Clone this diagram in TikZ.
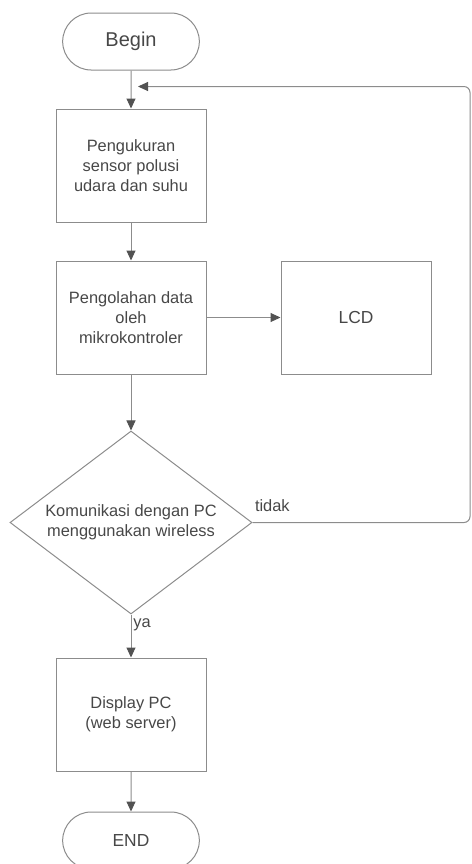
\documentclass[tikz,border=0pt]{standalone}
\usepackage{fontspec}
\setmainfont{Liberation Sans}
\usetikzlibrary{positioning, shapes.geometric, shapes.misc, arrows.meta}

\tikzset{
    garis/.style={draw=black!45, line width=0.5pt},
    proses/.style={garis, rectangle, minimum width=75pt, minimum height=56.5pt, align=center, text=black!72},
    terminal/.style={garis, rounded rectangle, minimum width=75pt, minimum height=28.5pt, text=black!72},
    keputusan/.style={garis, diamond, aspect=1.32, inner sep=1pt, minimum width=121pt, minimum height=91.5pt, align=center, text=black!72},
    panah/.style={garis, ->},
}

\begin{document}
\begin{tikzpicture}[>={Triangle[length=5pt, width=4.5pt, color=black!68]}, font=\fontsize{8.2}{10}\selectfont]
                    \useasboundingbox (0,0) rectangle (236pt,-432pt);
                    \node [terminal, font=\fontsize{10}{12}\selectfont] (mulai) at (65.5pt,-20.75pt) {Begin};
                    \node [proses, below=19pt of mulai] (ukur) {Pengukuran\\sensor polusi\\udara dan suhu};
                    \node [proses, below=19pt of ukur] (olah) {Pengolahan data\\oleh\\mikrokontroler};
                    \node [proses, right=37pt of olah, font=\fontsize{8.7}{10}\selectfont] (lcd) {LCD};
                    \node [keputusan, below=28pt of olah] (kom) {Komunikasi dengan PC\\menggunakan wireless};
                    \node [proses, below=21.5pt of kom] (display) {Display PC\\(web server)};
                    \node [terminal, below=20pt of display, font=\fontsize{8.7}{10}\selectfont] (selesai) {END};
                    \coordinate [below=8pt of mulai, xshift=3.5pt] (balik);
                    \coordinate (kanan) at (235pt,0);
                    \draw [panah] (mulai) -- (ukur);
                    \draw [panah] (ukur) -- (olah);
                    \draw [panah] (olah) -- (lcd);
                    \draw [panah] (olah) -- (kom);
                    \draw [panah] (kom.south) -- node [pos=0.25, right, inner sep=1pt, text=black!72] {ya} (display);
                    \draw [panah] (display) -- (selesai);
                    \draw [panah, rounded corners=3pt] (kom.east) node [above right, inner sep=1pt, yshift=4pt, text=black!72] {tidak}
                        -- (kom.east -| kanan) |- (balik);
                \end{tikzpicture}
\end{document}
